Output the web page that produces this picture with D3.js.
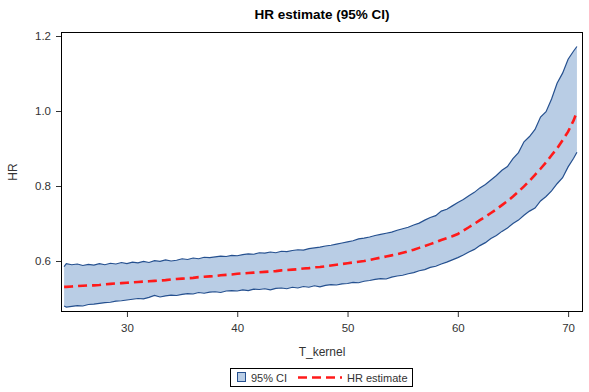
<!DOCTYPE html>
<html>
<head>
<meta charset="utf-8">
<script src="https://cdn.jsdelivr.net/npm/d3@7"></script>
<style>
  body { margin: 0; background: #fff; }
  text { font-family: "Liberation Sans", Arial, sans-serif; }
</style>
</head>
<body>
<div id="chart"></div>
<script>
// values
const tKernel = [24.3, 24.5, 25, 25.5, 26, 26.5, 27, 27.5, 28, 28.5, 29, 29.5, 30, 30.5, 31, 31.5,
  32, 32.5, 33, 33.5, 34, 34.5, 35, 35.5, 36, 36.5, 37, 37.5, 38, 38.5, 39, 39.5, 40, 40.5,
  41, 41.5, 42, 42.5, 43, 43.5, 44, 44.5, 45, 45.5, 46, 46.5, 47, 47.5, 48, 48.5, 49, 49.5,
  50, 50.5, 51, 51.5, 52, 52.5, 53, 53.5, 54, 54.5, 55, 55.5, 56, 56.5, 57, 57.5, 58, 58.5,
  59, 59.5, 60, 60.5, 61, 61.5, 62, 62.5, 63, 63.5, 64, 64.5, 65, 65.5, 66, 66.5, 67, 67.5,
  68, 68.5, 69, 69.5, 70, 70.5, 70.8]

const hrEstimate = [.531, .531, .532, .533, .534, .535, .535, .536, .538, .539, .540, .541, .542, .543, .544, .545,
  .546, .547, .548, .549, .551, .552, .553, .554, .555, .557, .558, .559, .560, .562, .563, .564, .566, .567,
  .568, .569, .570, .571, .572, .573, .575, .576, .577, .578, .580, .581, .583, .584, .586, .588, .590, .592,
  .594, .596, .598, .600, .603, .606, .609, .612, .615, .618, .622, .626, .630, .635, .640, .645, .650, .656,
  .661, .666, .672, .681, .690, .699, .709, .718, .728, .738, .749, .760, .772, .785, .799, .814, .830, .846,
  .863, .882, .900, .922, .945, .975, .998]

const ciLower = [.480, .477, .479, .481, .480, .484, .485, .487, .489, .490, .493, .494, .496, .498, .500, .499,
  .503, .508, .504, .507, .509, .508, .511, .513, .512, .516, .514, .517, .518, .516, .520, .521, .520, .523,
  .521, .525, .524, .526, .523, .527, .528, .526, .530, .528, .532, .530, .534, .531, .535, .537, .536, .539,
  .540, .543, .542, .546, .548, .551, .553, .552, .557, .560, .562, .566, .569, .574, .577, .583, .586, .592,
  .597, .603, .609, .616, .624, .631, .641, .649, .660, .668, .679, .688, .700, .709, .722, .733, .741, .760,
  .772, .787, .806, .822, .851, .874, .890]

const ciUpper = [.585, .593, .590, .592, .588, .591, .589, .593, .590, .594, .592, .596, .593, .597, .595, .599,
  .596, .601, .599, .603, .600, .602, .606, .604, .608, .606, .610, .609, .611, .613, .612, .615, .614, .617,
  .619, .618, .622, .621, .624, .622, .626, .625, .628, .630, .629, .633, .635, .637, .640, .642, .645, .648,
  .651, .654, .659, .661, .664, .668, .671, .674, .677, .682, .686, .690, .696, .701, .709, .716, .721, .733,
  .738, .747, .756, .764, .774, .783, .795, .804, .816, .828, .842, .852, .873, .889, .918, .932, .951, .984,
  .998, 1.032, 1.074, 1.101, 1.138, 1.160, 1.172]

const xTicks = [30, 40, 50, 60, 70]
const yTicks = [0.6, 0.8, 1.0, 1.2]
const legendLabels = ["95% CI", "HR estimate"]

const width = 589
const height = 392
const margin = {top: 32, right: 6, bottom: 80, left: 61}

const bandFill = "#b9cde5"
const bandLine = "#25508f"
const estColor = "#ff1a1a"

const rows = tKernel.map((t, i) => ({t: t, est: hrEstimate[i], lo: ciLower[i], hi: ciUpper[i]}))

const x = d3.scaleLinear()
    .domain([24.02, 71.35])
    .range([margin.left, width - margin.right])

const y = d3.scaleLinear()
    .domain([0.464, 1.2107])
    .range([height - margin.bottom, margin.top])

const svg = d3.select("#chart").append("svg")
    .attr("width", width)
    .attr("height", height)

// band
svg.append("path")
    .datum(rows)
    .attr("fill", bandFill)
    .attr("d", d3.area().x(d => x(d.t)).y0(d => y(d.lo)).y1(d => y(d.hi)))

for (const key of ["lo", "hi"]) {
    svg.append("path")
        .datum(rows)
        .attr("fill", "none")
        .attr("stroke", bandLine)
        .attr("stroke-width", 1.2)
        .attr("d", d3.line().x(d => x(d.t)).y(d => y(d[key])))
}

svg.append("path")
    .datum(rows)
    .attr("fill", "none")
    .attr("stroke", estColor)
    .attr("stroke-width", 2.6)
    .attr("stroke-dasharray", "9,5")
    .attr("d", d3.line().x(d => x(d.t)).y(d => y(d.est)))

// frame
svg.append("rect")
    .attr("x", margin.left + 0.5)
    .attr("y", margin.top + 0.5)
    .attr("width", width - margin.left - margin.right - 1)
    .attr("height", height - margin.top - margin.bottom - 1)
    .attr("fill", "none")
    .attr("stroke", "#000")

// axes
const xAxis = svg.append("g")
    .attr("transform", `translate(0,${height - margin.bottom})`)
    .call(d3.axisBottom(x).tickValues(xTicks).tickSize(5).tickSizeOuter(0).tickPadding(7).tickFormat(d3.format("d")))
const yAxis = svg.append("g")
    .attr("transform", `translate(${margin.left},0)`)
    .call(d3.axisLeft(y).tickValues(yTicks).tickSize(5).tickSizeOuter(0).tickPadding(5).tickFormat(d3.format(".1f")))

for (const ax of [xAxis, yAxis]) {
    ax.select(".domain").remove()
    ax.selectAll(".tick line").attr("stroke", "#333")
    ax.selectAll(".tick text")
        .attr("fill", "#333")
        .style("font-size", "11.5px")
        .style("font-family", "'Liberation Sans', Arial, sans-serif")
}

// titles
const plotMid = (margin.left + width - margin.right) / 2

svg.append("text")
    .attr("x", plotMid)
    .attr("y", 19)
    .attr("text-anchor", "middle")
    .attr("font-weight", "bold")
    .attr("font-size", 13.5)
    .attr("fill", "#000")
    .text("HR estimate (95% CI)")

svg.append("text")
    .attr("x", plotMid)
    .attr("y", 356)
    .attr("text-anchor", "middle")
    .attr("font-size", 12)
    .attr("fill", "#333")
    .text("T_kernel")

svg.append("text")
    .attr("transform", `translate(17,${(margin.top + height - margin.bottom) / 2}) rotate(-90)`)
    .attr("text-anchor", "middle")
    .attr("font-size", 12)
    .attr("fill", "#333")
    .text("HR")

// legend
const legend = svg.append("g")

legend.append("rect")
    .attr("x", 230.5).attr("y", 368.5)
    .attr("width", 182).attr("height", 18)
    .attr("fill", "#fff").attr("stroke", "#000")

legend.append("rect")
    .attr("x", 237.5).attr("y", 372.5)
    .attr("width", 8).attr("height", 9)
    .attr("fill", bandFill).attr("stroke", bandLine)

legend.append("text")
    .attr("x", 251).attr("y", 381.5)
    .attr("font-size", 11).attr("fill", "#333")
    .text(legendLabels[0])

legend.append("line")
    .attr("x1", 298).attr("x2", 342)
    .attr("y1", 377.5).attr("y2", 377.5)
    .attr("stroke", estColor).attr("stroke-width", 2.6)
    .attr("stroke-dasharray", "9,5")

legend.append("text")
    .attr("x", 347).attr("y", 381.5)
    .attr("font-size", 11).attr("fill", "#333")
    .text(legendLabels[1])
</script>
</body>
</html>
